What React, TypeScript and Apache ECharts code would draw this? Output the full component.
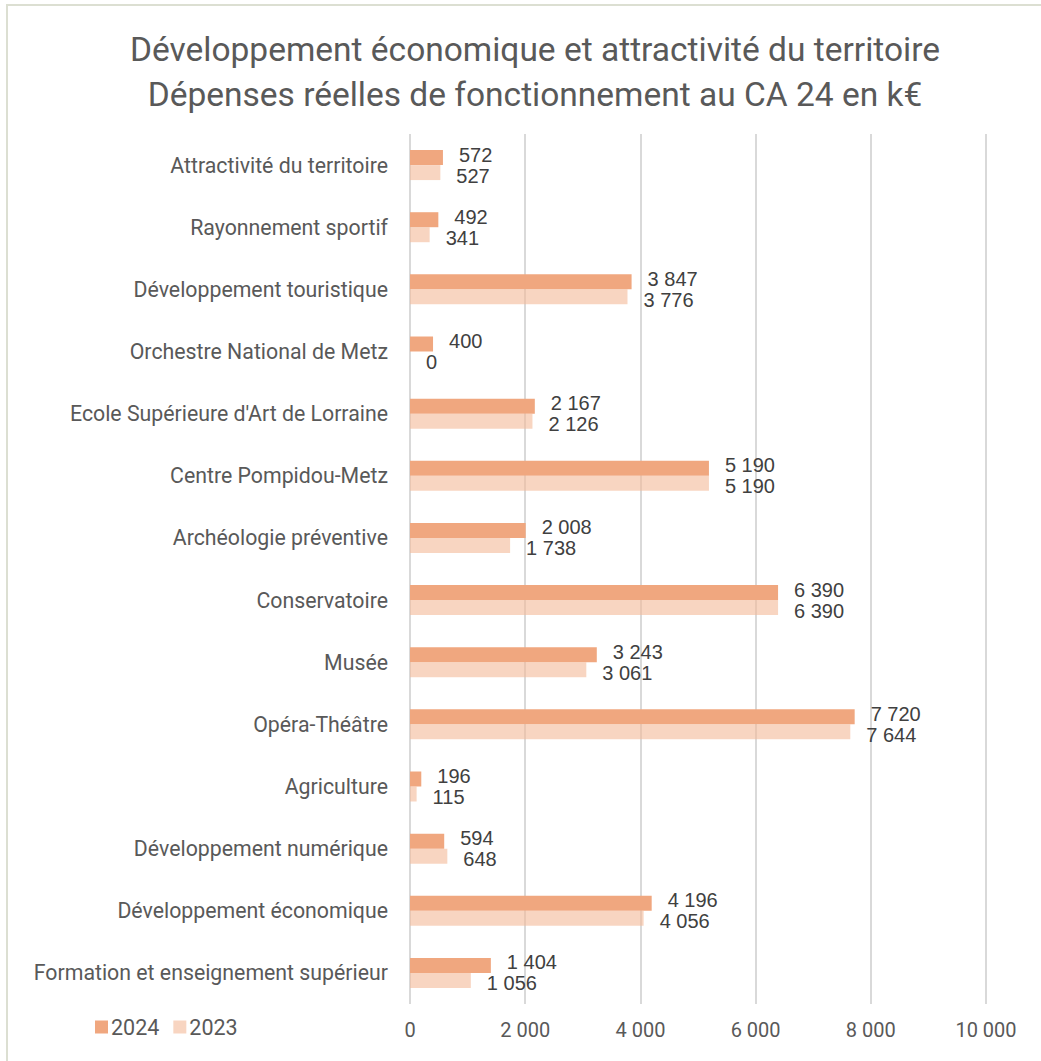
import React, { useEffect, useRef } from "react";
import * as echarts from "echarts";

const titleLines = [
  "Développement économique et attractivité du territoire",
  "Dépenses réelles de fonctionnement au CA 24 en k€",
];

const categories = [
  "Attractivité du territoire",
  "Rayonnement sportif",
  "Développement touristique",
  "Orchestre National de Metz",
  "Ecole Supérieure d'Art de Lorraine",
  "Centre Pompidou-Metz",
  "Archéologie préventive",
  "Conservatoire",
  "Musée",
  "Opéra-Théâtre",
  "Agriculture",
  "Développement numérique",
  "Développement économique",
  "Formation et enseignement supérieur",
];

const values2024 = [572, 492, 3847, 400, 2167, 5190, 2008, 6390, 3243, 7720, 196, 594, 4196, 1404];
const values2023 = [527, 341, 3776, 0, 2126, 5190, 1738, 6390, 3061, 7644, 115, 648, 4056, 1056];

const seriesNames = ["2024", "2023"];
const xTicks = { min: 0, max: 10000, interval: 2000 };

const fmt = (v: number) => String(v).replace(/\B(?=(\d{3})+(?!\d))/g, " ");

export default function App() {
  const ref = useRef<HTMLDivElement>(null);
  useEffect(() => {
    if (!ref.current) return;
    const chart = echarts.init(ref.current, undefined, { renderer: "svg" });
    const textColor = "#595959";
    const labelFont = "'Liberation Sans', Arial, sans-serif";
    const catFont = "Roboto, 'Noto Sans', sans-serif";
    const dataLabel = (dy: number) => ({
      show: true,
      position: "right",
      distance: 16,
      offset: [0, dy],
      formatter: (p: any) => fmt(p.value),
      fontFamily: labelFont,
      fontSize: 20,
      lineHeight: 18,
      color: "#404040",
    });
    chart.setOption({
      animation: false,
      backgroundColor: "#ffffff",
      graphic: [
        {
          type: "rect",
          shape: { x: 7, y: 5, width: 1045, height: 1070 },
          style: { fill: "none", stroke: "#dcdfd2", lineWidth: 2 },
          silent: true,
        },
      ],
      title: {
        text: titleLines.join("\n"),
        left: 530,
        top: 22,
        textAlign: "center",
        textStyle: {
          fontFamily: catFont,
          fontSize: 33.5,
          fontWeight: "normal",
          color: textColor,
          lineHeight: 45,
        },
      },
      legend: {
        data: seriesNames,
        left: 90,
        top: 1011,
        itemWidth: 13,
        itemHeight: 13,
        itemGap: 14,
        icon: "rect",
        textStyle: { fontFamily: catFont, fontSize: 21.5, color: textColor, padding: [0, 0, 0, -2] },
      },
      grid: { left: 410, right: 55, top: 134, bottom: 57, containLabel: false },
      xAxis: {
        type: "value",
        min: xTicks.min,
        max: xTicks.max,
        interval: xTicks.interval,
        axisLine: { show: false },
        axisTick: { show: false },
        splitLine: { show: true, lineStyle: { color: "#d9d9d9", width: 2 } },
        axisLabel: {
          formatter: (v: number) => fmt(v),
          fontFamily: catFont,
          fontSize: 20,
          color: textColor,
          margin: 16,
        },
      },
      yAxis: {
        type: "category",
        inverse: true,
        data: categories,
        axisLine: { show: false },
        axisTick: { show: false },
        axisLabel: {
          fontFamily: catFont,
          fontSize: 21.3,
          color: textColor,
          margin: 22,
        },
      },
      series: [
        {
          name: seriesNames[0],
          type: "bar",
          data: values2024,
          barWidth: 15,
          barGap: "0%",
          itemStyle: { color: "#f0a77f" },
          label: dataLabel(-3),
        },
        {
          name: seriesNames[1],
          type: "bar",
          data: values2023,
          barWidth: 15,
          barGap: "0%",
          itemStyle: { color: "rgba(244,185,152,0.6)" },
          label: dataLabel(3),
        },
      ],
    });
    return () => chart.dispose();
  }, []);
  return (
    <div
      ref={ref}
      style={{ position: "absolute", left: 0, top: 0, width: 1041, height: 1061 }}
    />
  );
}
